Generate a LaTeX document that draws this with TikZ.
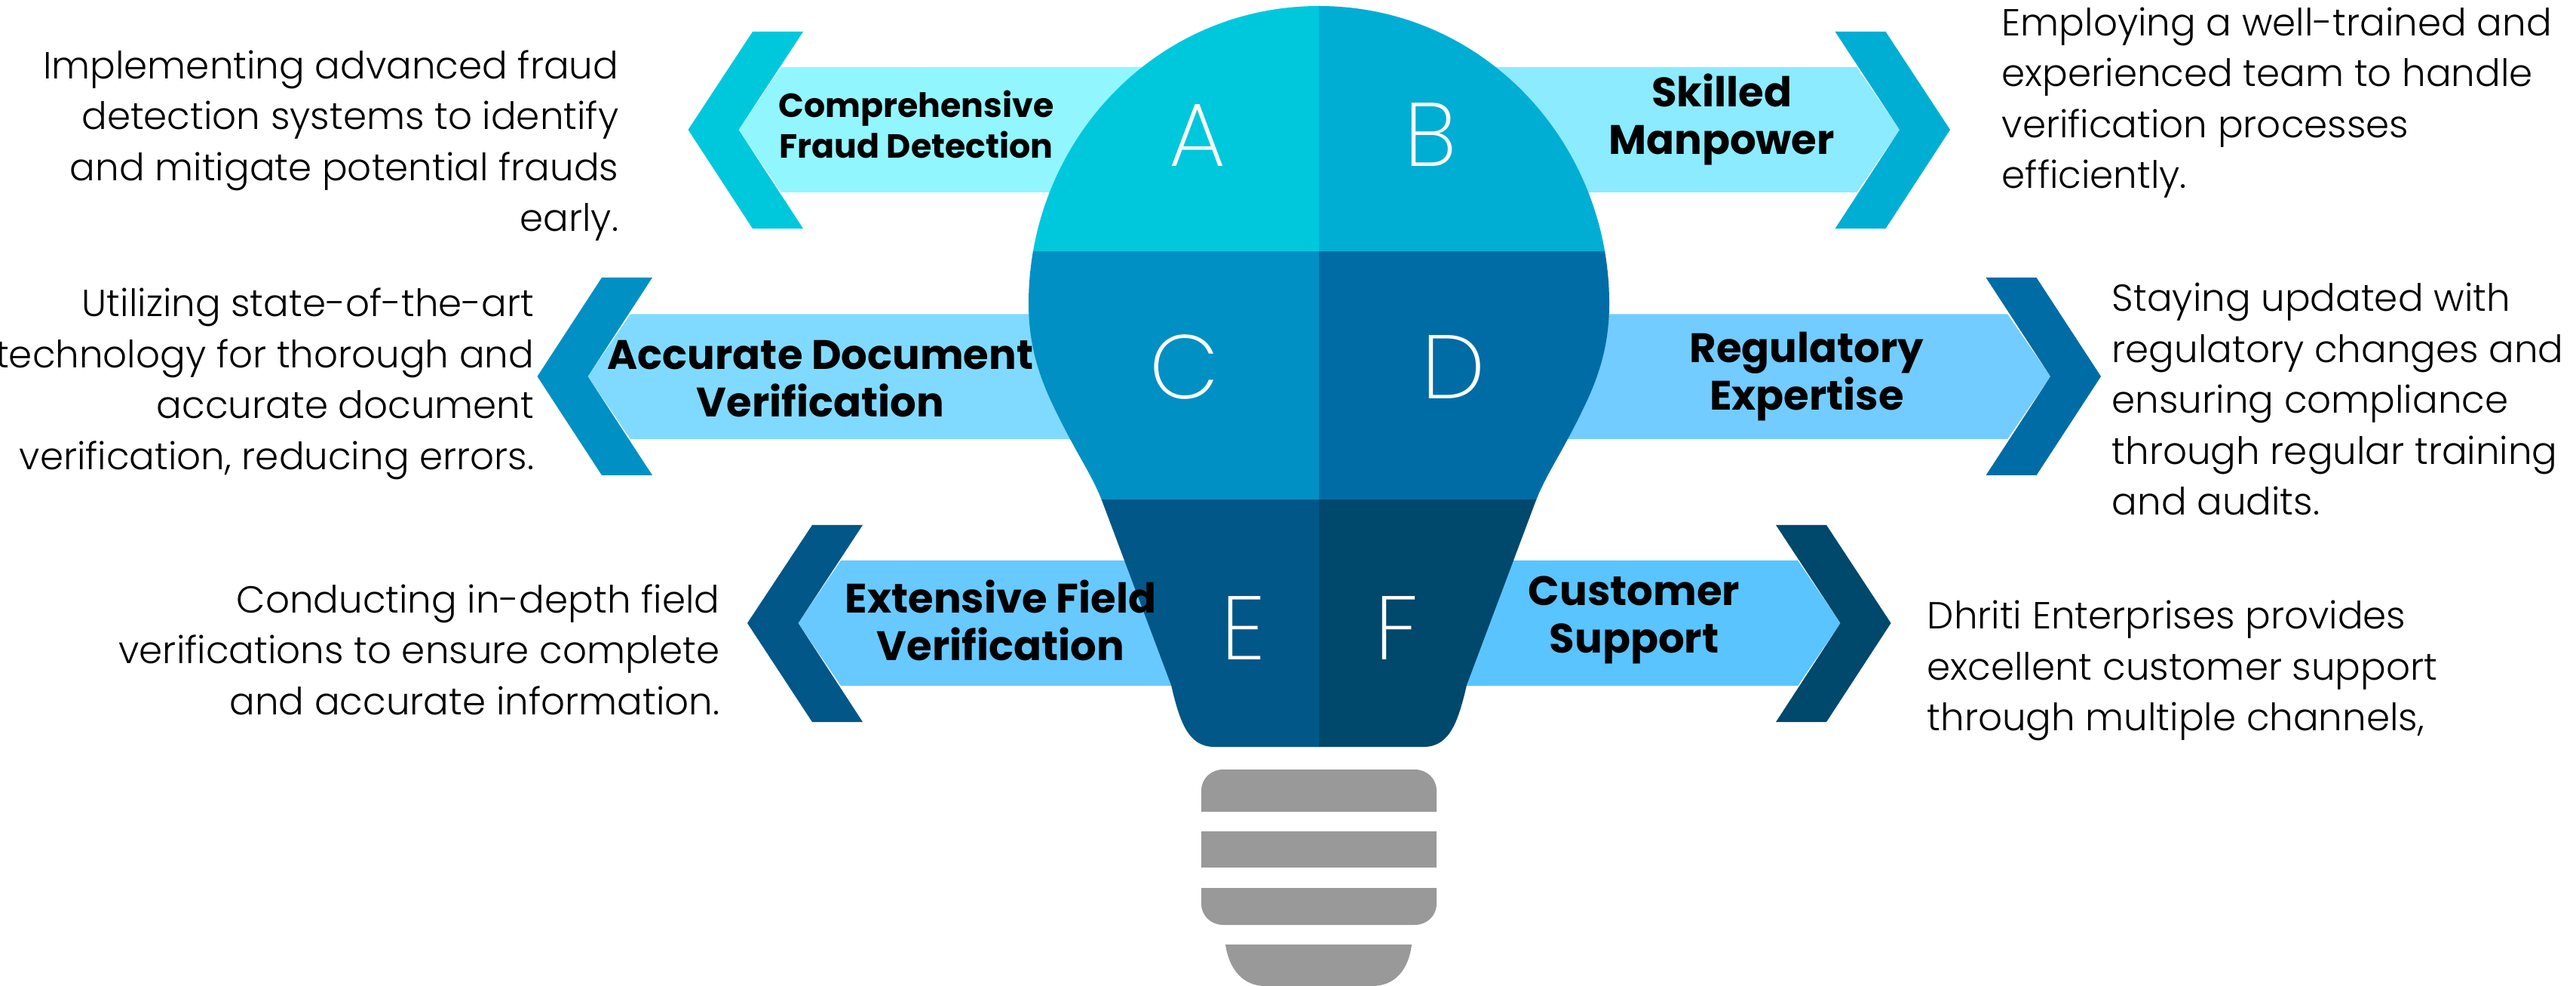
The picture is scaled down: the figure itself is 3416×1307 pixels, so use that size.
\documentclass[tikz,border=0pt]{standalone}
\usepackage{fontspec}
\setmainfont{Poppins}
\newfontfamily\plight{Poppins Light}
\newfontfamily\pxlight{Poppins ExtraLight}
\newfontfamily\pbold{Poppins Bold}
\definecolor{ca}{HTML}{00C8DC}\definecolor{cb}{HTML}{00AED4}\definecolor{cc}{HTML}{0090C4}
\definecolor{cd}{HTML}{006CA6}\definecolor{ce}{HTML}{005788}\definecolor{cf}{HTML}{00486C}
\definecolor{ba}{HTML}{92F6FF}\definecolor{bb}{HTML}{8CEBFF}\definecolor{bc}{HTML}{80DAFF}
\definecolor{bd}{HTML}{72CCFF}\definecolor{be}{HTML}{68C9FF}\definecolor{bf}{HTML}{5AC4FF}
\definecolor{greybase}{HTML}{999999}
\tikzset{
 x=0.01cm,y=-0.01cm,
 body/.style={inner sep=0pt,font=\plight\fontsize{14.2pt}{19.2pt}\selectfont},
 bodyl/.style={body,anchor=west,align=left},
 bodyr/.style={body,anchor=east,align=right},
 lab/.style={inner sep=0pt,align=center,text=black,font=\pbold\fontsize{15.5pt}{17.9pt}\selectfont},
 labsm/.style={inner sep=0pt,align=center,text=black,font=\pbold\fontsize{12.6pt}{15.5pt}\selectfont},
 letter/.style={inner sep=0pt,text=white,font=\pxlight\fontsize{34pt}{34pt}\selectfont},
}
\begin{document}
\begin{tikzpicture}
\useasboundingbox (0,0) rectangle (3416,1307);
% bands
\fill[ba] (1036,89) -- (1600,89) -- (1600,255) -- (1036,255) -- (979.5,172) -- cycle;
\fill[bb] (1900,89) -- (2462,89) -- (2519,172) -- (2462,255) -- (1900,255) -- cycle;
\fill[bc] (836,416.5) -- (1500,416.5) -- (1500,582) -- (836,582) -- (779.5,499) -- cycle;
\fill[bd] (2000,416.5) -- (2662,416.5) -- (2719,499) -- (2662,582) -- (2000,582) -- cycle;
\fill[be] (1115,743) -- (1600,743) -- (1600,909) -- (1115,909) -- (1058.5,826) -- cycle;
\fill[bf] (1900,743) -- (2384,743) -- (2440.5,826) -- (2384,909) -- (1900,909) -- cycle;
% chevrons
\fill[ca] (912.5,172) -- (998,42) -- (1065,42) -- (979.5,172) -- (1065,303) -- (998,303) -- cycle;
\fill[cb] (2586,172) -- (2500.5,42) -- (2433.5,42) -- (2519,172) -- (2433.5,303) -- (2500.5,303) -- cycle;
\fill[cc] (712.5,499) -- (798,368) -- (865,368) -- (779.5,499) -- (865,630) -- (798,630) -- cycle;
\fill[cd] (2786,499) -- (2700.5,368) -- (2633.5,368) -- (2719,499) -- (2633.5,630) -- (2700.5,630) -- cycle;
\fill[ce] (991,826) -- (1077,696) -- (1144,696) -- (1058.5,826) -- (1144,957) -- (1077,957) -- cycle;
\fill[cf] (2507.5,826) -- (2422,696) -- (2355,696) -- (2440.5,826) -- (2355,957) -- (2422,957) -- cycle;
% bulb
\begin{scope}
\clip (1749,8) .. controls (1530,8) and (1364,190) .. (1364,402)
 .. controls (1364,470) and (1385,515) .. (1405,555)
 .. controls (1430,605) and (1448,630) .. (1461,663)
 -- (1553,908) .. controls (1564,955) and (1575,990) .. (1610,990)
 -- (1888,990) .. controls (1923,990) and (1934,955) .. (1945,908)
 -- (2037,663) .. controls (2050,630) and (2068,605) .. (2093,555)
 .. controls (2113,515) and (2134,470) .. (2134,402)
 .. controls (2134,190) and (1968,8) .. (1749,8) -- cycle;
\fill[ca] (1350,0) rectangle (1750,334);
\fill[cb] (1749,0) rectangle (2150,334);
\fill[cc] (1350,333.5) rectangle (1750,663);
\fill[cd] (1749,333.5) rectangle (2150,663);
\fill[ce] (1350,662.5) rectangle (1750,1000);
\fill[cf] (1749,662.5) rectangle (2150,1000);
\end{scope}
% base
\fill[greybase] (1593,1076) -- (1593,1048) .. controls (1593,1032) and (1606,1020) .. (1622,1020) -- (1876,1020) .. controls (1892,1020) and (1905,1032) .. (1905,1048) -- (1905,1076) -- cycle;
\fill[greybase] (1593,1102) rectangle (1905,1150);
\fill[greybase] (1593,1177) -- (1905,1177) -- (1905,1198) .. controls (1905,1214) and (1892,1226) .. (1876,1226) -- (1622,1226) .. controls (1606,1226) and (1593,1214) .. (1593,1198) -- cycle;
\fill[greybase] (1625,1252) -- (1872,1252) .. controls (1868,1285) and (1850,1307) .. (1820,1307) -- (1678,1307) .. controls (1648,1307) and (1630,1285) .. (1625,1252) -- cycle;
% letters
\node[letter] (la) at (1588,179) {A};
\node[letter] (lb) at (1897,179) {B};
\node[letter] (lc) at (1571,487) {C};
\node[letter] (ld) at (1928,487) {D};
\node[letter] (le) at (1649,833) {E};
\node[letter] (lf) at (1852,833) {F};
% labels
\node[labsm] (ta) at (1215,165) {Comprehensive\\Fraud Detection};
\node[lab] (tb) at (2283,158) {Skilled\\Manpower};
\node[lab] (tc) at (1088,502) {Accurate Document\\Verification};
\node[lab] (td) at (2396,499) {Regulatory\\Expertise};
\node[lab] (te) at (1327,822) {Extensive Field\\Verification};
\node[lab] (tf) at (2167,822) {Customer\\Support};
% descriptions
\node[bodyr] (da) at (821,193) {Implementing advanced fraud\\detection systems to identify\\and mitigate potential frauds\\early.};
\node[bodyl] (db) at (2654,136) {Employing a well-trained and\\experienced team to handle\\verification processes\\efficiently.};
\node[bodyr] (dc) at (709,509) {Utilizing state-of-the-art\\technology for thorough and\\accurate document\\verification, reducing errors.};
\node[bodyl] (dd) at (2800,529) {Staying updated with\\regulatory changes and\\ensuring compliance\\through regular training\\and audits.};
\node[bodyr] (de) at (955,861) {Conducting in-depth field\\verifications to ensure complete\\and accurate information.};
\node[bodyl] (df) at (2555,889) {Dhriti Enterprises provides\\excellent customer support\\through multiple channels,};
\end{tikzpicture}
\end{document}
